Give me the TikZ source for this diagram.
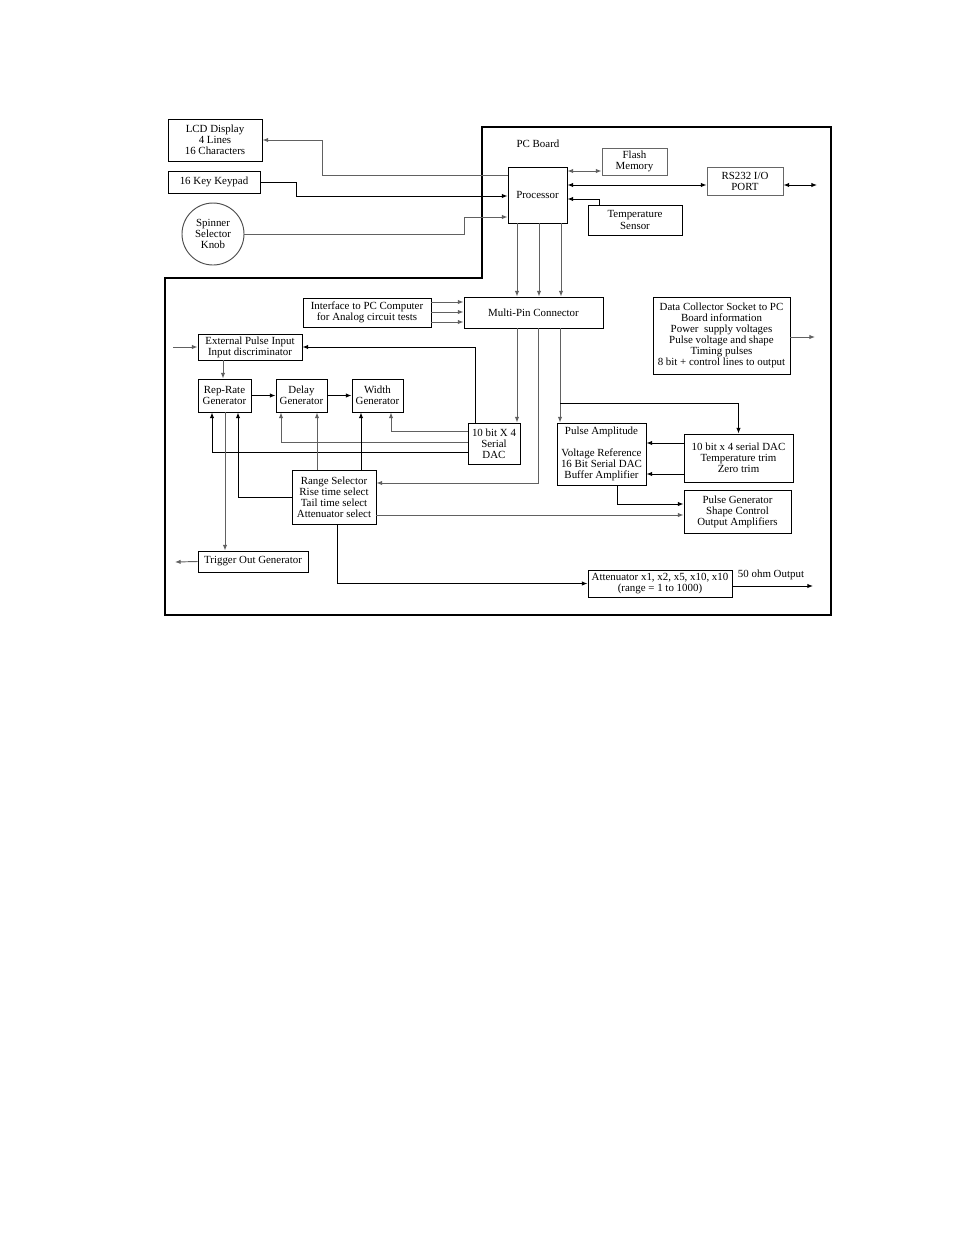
\documentclass[tikz,border=0pt]{standalone}
\usepackage{fontspec}
\setmainfont{Liberation Serif}
\usepackage{tikz}
\usetikzlibrary{arrows.meta}

\newcommand{\pxu}{0.6415pt}

\begin{document}
\begin{tikzpicture}[x=\pxu, y=-\pxu, sz/.style 2 args={minimum width=#1*\pxu, minimum height=#2*\pxu}]
    \tikzstyle{blk} = [rectangle, draw, line width=0.6pt, inner sep=0pt, align=center, font=\fontsize{7}{7.1}\selectfont]
    \tikzstyle{gblk} = [blk, draw=black!60]
    \tikzstyle{txt} = [inner sep=0pt, font=\fontsize{7}{7.1}\selectfont]
    \tikzstyle{bline} = [black, line width=0.6pt]
    \tikzstyle{gline} = [black!62, line width=0.6pt]
    \tikzstyle{tip} = [-{Latex[length=3.6pt,width=2.8pt]}]
    \tikzstyle{dtip} = [{Latex[length=3.6pt,width=2.8pt]}-{Latex[length=3.6pt,width=2.8pt]}]

    \useasboundingbox (0,0) rectangle (954,1235);

    % PC board outline
    \draw[line width=1.4pt] (482,127) -- (831,127) -- (831,615) -- (165,615) -- (165,278) -- (482,278) -- cycle;
    \node[txt] (board) at (538,144) {PC Board};

    % Front panel
    \node[blk, sz={94}{42}] (lcd) at (215,140) {LCD Display\\4 Lines\\16 Characters};
    \node[blk, sz={92}{22}] (keypad) at (214,182) {16 Key Keypad};
    \node[circle, draw=black!70, line width=0.6pt, inner sep=0pt, minimum size=62*\pxu, align=center,
          font=\fontsize{7}{7.1}\selectfont] (spinner) at (213,234) {Spinner\\Selector\\Knob};

    % Processor block
    \node[blk, sz={59}{56}] (proc) at (537.5,195) {Processor};
    \node[gblk, sz={65}{27}] (flash) at (634.5,161.5) {Flash\\Memory};
    \node[gblk, sz={76}{28}] (rs232) at (745,181) {RS232 I/O\\PORT};
    \node[blk, sz={94}{30}] (temp) at (635,220) {Temperature\\Sensor};

    % Connector row
    \node[blk, sz={139}{31}] (multipin) at (533.5,312.5) {Multi-Pin Connector};
    \node[blk, sz={128}{29}] (iface) at (367,312.5) {Interface to PC Computer\\for Analog circuit tests};
    \node[blk, sz={137}{77}] (datacol) at (721.5,335.5) {Data Collector Socket to PC\\Board information\\Power\ \ supply voltages\\Pulse voltage and shape\\Timing pulses\\8 bit + control lines to output};

    % Timing chain
    \node[blk, sz={104}{26}] (extpulse) at (250,347) {External Pulse Input\\Input discriminator};
    \node[blk, sz={53}{33}] (reprate) at (224.5,395.5) {Rep-Rate\\Generator};
    \node[blk, sz={51}{33}] (delay) at (301.5,395.5) {Delay\\Generator};
    \node[blk, sz={51}{33}] (width) at (377.5,395.5) {Width\\Generator};
    \node[blk, sz={52}{41}] (dac) at (494,443.5) {10 bit X 4\\Serial\\DAC};
    \node[blk, sz={84}{54}] (range) at (334,497) {Range Selector\\Rise time select\\Tail time select\\Attenuator select};
    \node[blk, sz={110}{21}] (trig) at (253,561.5) {Trigger Out Generator};

    % Amplitude chain
    \node[blk, sz={89}{62}] (pamp) at (601.5,454) {Pulse Amplitude\\[6.5pt]Voltage Reference\\16 Bit Serial DAC\\Buffer Amplifier};
    \node[blk, sz={109}{48}] (tdac) at (738.5,458) {10 bit x 4 serial DAC\\Temperature trim\\Zero trim};
    \node[blk, sz={107}{43}] (pgen) at (737.5,511.5) {Pulse Generator\\Shape Control\\Output Amplifiers};
    \node[blk, sz={144}{27}] (atten) at (660,583.5) {Attenuator x1, x2, x5, x10, x10\\(range = 1 to 1000)};
    \node[txt] (ohm) at (771,575) {50 ohm Output};

    % Free ends
    \coordinate (rsout) at (817,185);
    \coordinate (dcout) at (815,337);
    \coordinate (extin) at (173,347);
    \coordinate (attout) at (813,586);
    \coordinate (trigout) at (175,562);

    % Front panel to processor
    \draw[gline,tip] (proc.west |- 0,175) -| (322,140) -- (lcd.east);
    \draw[bline,tip] (keypad.east) -| (296,196) -- (proc.west |- 0,196);
    \draw[gline,tip] (spinner.east) -| (464,217) -- (proc.west |- 0,217);

    % Processor peripherals
    \draw[gline,dtip] (proc.east |- 0,171) -- (flash.west |- 0,171);
    \draw[bline,dtip] (proc.east |- 0,185) -- (rs232.west |- 0,185);
    \draw[bline,dtip] (rs232.east |- 0,185) -- (rsout);
    \draw[bline,tip] (temp.north -| 599,0) |- (proc.east |- 0,199);
    \foreach \xx in {517,539,561}
        \draw[gline,tip] (proc.south -| \xx,0) -- (multipin.north -| \xx,0);
    \foreach \yy in {302,312,322}
        \draw[gline,tip] (iface.east |- 0,\yy) -- (multipin.west |- 0,\yy);
    \draw[gline,tip] (datacol.east |- 0,337) -- (dcout);

    % Multi-pin connector outputs
    \draw[gline,tip] (multipin.south -| 517,0) -- (dac.north -| 517,0);
    \draw[gline,tip] (multipin.south -| 538,0) |- (range.east |- 0,483);
    \draw[gline,tip] (multipin.south -| 560,0) -- (pamp.north -| 560,0);
    \draw[bline,tip] (560,403) -| (tdac.north);

    % Timing chain
    \draw[gline,tip] (extin) -- (extpulse.west);
    \draw[bline,tip] (dac.north -| 475,0) |- (extpulse.east);
    \draw[gline,tip] (extpulse.south -| 223,0) -- (reprate.north -| 223,0);
    \draw[bline,tip] (reprate.east) -- (delay.west);
    \draw[bline,tip] (delay.east) -- (width.west);
    \draw[gline,tip] (dac.west |- 0,431) -| (width.south -| 391,0);
    \draw[gline,tip] (dac.west |- 0,442) -| (delay.south -| 281,0);
    \draw[bline,tip] (dac.west |- 0,452) -| (reprate.south -| 212,0);
    \draw[gline,tip] (range.north -| 317,0) -- (delay.south -| 317,0);
    \draw[bline,tip] (range.north -| 361,0) -- (width.south -| 361,0);
    \draw[bline,tip] (range.west) -| (reprate.south -| 238,0);
    \draw[gline,tip] (reprate.south -| 225,0) -- (trig.north -| 225,0);
    \draw[gline,tip] (trig.west) -- (trigout);

    % Amplitude chain
    \draw[bline,tip] (tdac.west |- 0,443) -- (pamp.east |- 0,443);
    \draw[bline,tip] (tdac.west |- 0,474) -- (pamp.east |- 0,474);
    \draw[bline,tip] (pamp.south -| 617,0) |- (pgen.west |- 0,504);
    \draw[gline,tip] (range.east |- 0,515) -- (pgen.west |- 0,515);
    \draw[bline,tip] (range.south -| 337,0) |- (atten.west);
    \draw[bline,tip] (atten.east |- 0,586) -- (attout);
\end{tikzpicture}
\end{document}
